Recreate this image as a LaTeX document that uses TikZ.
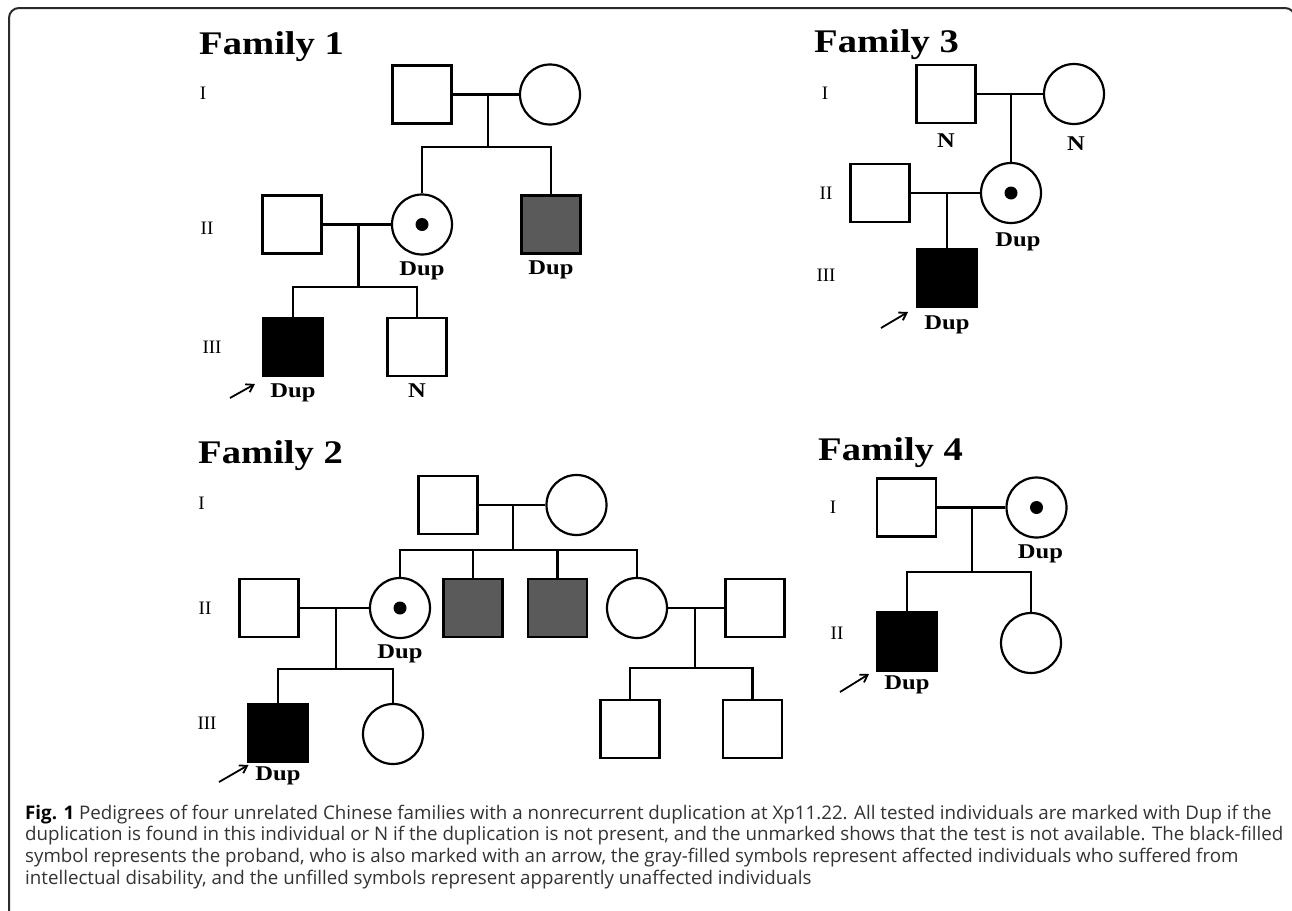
\documentclass[tikz,border=0pt]{standalone}
\usepackage{graphicx}
\usepackage{fontspec}
\setmainfont{Liberation Serif}
\newfontfamily\capfont{Open Sans}
\usetikzlibrary{arrows.meta}
\definecolor{affgray}{HTML}{5A5A5A}
\definecolor{captext}{HTML}{333333}
\definecolor{framecol}{HTML}{2B2B2B}
\newcommand\stretchtxt[1]{\scalebox{1.17}[1]{#1}}
\newcommand\captwo{duplication is found in this individual or N if the duplication is not present, and the unmarked shows that the test is not available. The black-filled}
\newlength\capw
\begin{document}
\settowidth\capw{\capfont\fontsize{10}{10}\selectfont\captwo}%
\pgfmathsetmacro\capsize{10*1258/\capw}%
\begin{tikzpicture}[x=1pt,y=-1pt,
  male/.style={draw, line width=2.2pt, rectangle, minimum width=59pt, minimum height=58pt, inner sep=0pt},
  female/.style={draw, line width=2.2pt, circle, minimum size=60pt, inner sep=0pt},
  proband/.style={fill=black},
  affected/.style={fill=affgray},
  link/.style={line width=2.2pt},
  gen/.style={font=\fontsize{19}{19}\selectfont, inner sep=0pt},
  famtitle/.style={font=\fontsize{33}{33}\selectfont\bfseries, inner sep=0pt, anchor=base west},
  lab/.style={font=\fontsize{21}{21}\selectfont\bfseries, inner sep=0pt, anchor=north},
  probarrow/.style={line width=1.8pt, -{Straight Barb[length=7pt,width=9pt]}},
  capline/.style={font=\capfont\fontsize{\capsize}{\capsize}\selectfont, text=captext, inner sep=0pt, anchor=base west},
]
\useasboundingbox (0,0) rectangle (1292,910);
\clip (0,0) rectangle (1292,910);
\fill[white] (0,0) rectangle (1292,910);
\draw[framecol, line width=2pt, rounded corners=10pt] (9,8) rectangle (1295,940);

% ---------------- Family 1 ----------------
\node[famtitle] (t1) at (199,54) {\stretchtxt{Family 1}};
\node[gen] (f1g1) at (203,93) {I};
\node[gen] (f1g2) at (207,228) {II};
\node[gen] (f1g3) at (212,347) {III};

\node[male] (f1m1) at (422,94.5) {};
\node[female] (f1f1) at (550,94.5) {};
\node[male] (f1m2) at (292,224.5) {};
\node[female] (f1f2) at (422,224.5) {};
\node[male, affected] (f1g) at (551,224.5) {};
\node[male, proband] (f1p) at (293,347) {};
\node[male] (f1n) at (417,347) {};
\fill (f1f2.center) circle[radius=6.5];

\coordinate (f1c1) at (488,94.5);
\coordinate (f1s1) at (488,147);
\draw[link] (f1m1.east) -- (f1f1.west);
\draw[link] (f1c1) -- (f1s1);
\draw[link] (f1f2.north) |- (f1s1) -| (f1g.north);
\coordinate (f1c2) at (358.5,224.5);
\coordinate (f1s2) at (358.5,287);
\draw[link] (f1m2.east) -- (f1f2.west);
\draw[link] (f1c2) -- (f1s2);
\draw[link] (f1p.north) |- (f1s2) -| (f1n.north);

\node[lab] (f1l1) at ([yshift=-6pt]f1f2.south) {\stretchtxt{Dup}};
\node[lab] (f1l2) at ([yshift=-6pt]f1g.south) {\stretchtxt{Dup}};
\node[lab] (f1l3) at ([yshift=-6pt]f1p.south) {\stretchtxt{Dup}};
\node[lab] (f1l4) at ([yshift=-6pt]f1n.south) {\stretchtxt{N}};
\coordinate (f1a0) at (230,398);
\coordinate (f1a1) at (255,384);
\draw[probarrow] (f1a0) -- (f1a1);

% ---------------- Family 3 ----------------
\node[famtitle] (t3) at (814,52) {\stretchtxt{Family 3}};
\node[gen] (f3g1) at (825,93) {I};
\node[gen] (f3g2) at (826,193) {II};
\node[gen] (f3g3) at (826,275) {III};

\node[male] (f3m1) at (946,94) {};
\node[female] (f3f1) at (1074,94) {};
\node[male] (f3m2) at (880,193) {};
\node[female] (f3f2) at (1011,193) {};
\node[male, proband] (f3p) at (947,278) {};
\fill (f3f2.center) circle[radius=6.5];

\coordinate (f3c1) at (1011,94);
\draw[link] (f3m1.east) -- (f3f1.west);
\draw[link] (f3c1) -- (f3f2.north);
\coordinate (f3c2) at (947,193);
\draw[link] (f3m2.east) -- (f3f2.west);
\draw[link] (f3c2) -- (f3p.north);

\node[lab] (f3l1) at ([yshift=-9pt]f3m1.south) {\stretchtxt{N}};
\node[lab] (f3l2) at ([xshift=2pt,yshift=-11pt]f3f1.south) {\stretchtxt{N}};
\node[lab] (f3l3) at ([xshift=7pt,yshift=-8pt]f3f2.south) {\stretchtxt{Dup}};
\node[lab] (f3l4) at ([yshift=-7pt]f3p.south) {\stretchtxt{Dup}};
\coordinate (f3a0) at (881,328);
\coordinate (f3a1) at (908,312);
\draw[probarrow] (f3a0) -- (f3a1);

% ---------------- Family 2 ----------------
\node[famtitle] (t2) at (198,463) {\stretchtxt{Family 2}};
\node[gen] (f2g1) at (201.5,503) {I};
\node[gen] (f2g2) at (205,608) {II};
\node[gen] (f2g3) at (207,723) {III};

\node[male] (f2m1) at (448,505) {};
\node[female] (f2f1) at (576.5,505) {};
\node[female] (f2c) at (400,608) {};
\node[male, affected] (f2a1) at (473,608) {};
\node[male, affected] (f2a2) at (557.5,608) {};
\node[female] (f2f2) at (637,608) {};
\node[male] (f2m2) at (269,608) {};
\node[male] (f2m3) at (755,608) {};
\node[male, proband] (f2p) at (278,733) {};
\node[female] (f2f3) at (393,734) {};
\node[male] (f2s1) at (630,729) {};
\node[male] (f2s2) at (752.5,729) {};
\fill (f2c.center) circle[radius=6.5];

\coordinate (f2c1) at (513,505);
\coordinate (f2s1c) at (513,550);
\draw[link] (f2m1.east) -- (f2f1.west);
\draw[link] (f2c1) -- (f2s1c);
\draw[link] (f2c.north) |- (f2s1c) -| (f2f2.north);
\draw[link] (f2a1.north) -- (f2a1.north |- f2s1c);
\draw[link] (f2a2.north) -- (f2a2.north |- f2s1c);

\coordinate (f2c2) at (336,608);
\coordinate (f2s2c) at (336,669);
\draw[link] (f2m2.east) -- (f2c.west);
\draw[link] (f2c2) -- (f2s2c);
\draw[link] (f2p.north) |- (f2s2c) -| (f2f3.north);

\coordinate (f2c3) at (695,608);
\coordinate (f2s3c) at (695,668);
\draw[link] (f2f2.east) -- (f2m3.west);
\draw[link] (f2c3) -- (f2s3c);
\draw[link] (f2s1.north) |- (f2s3c) -| (f2s2.north);

\node[lab] (f2l1) at ([yshift=-5pt]f2c.south) {\stretchtxt{Dup}};
\node[lab] (f2l2) at ([yshift=-3pt]f2p.south) {\stretchtxt{Dup}};
\coordinate (f2a0) at (219,782);
\coordinate (f2a1c) at (248.5,765);
\draw[probarrow] (f2a0) -- (f2a1c);

% ---------------- Family 4 ----------------
\node[famtitle] (t4) at (818,460) {\stretchtxt{Family 4}};
\node[gen] (f4g1) at (833,507) {I};
\node[gen] (f4g2) at (837,633) {II};

\node[male] (f4m1) at (906.5,507.5) {};
\node[female] (f4f1) at (1036.5,507.5) {};
\node[male, proband] (f4p) at (907,641.5) {};
\node[female] (f4f2) at (1031,643) {};
\fill (f4f1.center) circle[radius=6.5];

\coordinate (f4c1) at (972,507.5);
\coordinate (f4s1) at (972,572);
\draw[link] (f4m1.east) -- (f4f1.west);
\draw[link] (f4c1) -- (f4s1);
\draw[link] (f4p.north) |- (f4s1) -| (f4f2.north);

\node[lab] (f4l1) at ([xshift=4pt,yshift=-6pt]f4f1.south) {\stretchtxt{Dup}};
\node[lab] (f4l2) at ([yshift=-4pt]f4p.south) {\stretchtxt{Dup}};
\coordinate (f4a0) at (840,692);
\coordinate (f4a1) at (869,674);
\draw[probarrow] (f4a0) -- (f4a1);

% ---------------- Caption ----------------
\node[capline] (cap1) at (25,819) {{\bfseries\color{black}Fig. 1} Pedigrees of four unrelated Chinese families with a nonrecurrent duplication at Xp11.22. All tested individuals are marked with Dup if the};
\node[capline] (cap2) at (25,840.7) {\captwo};
\node[capline] (cap3) at (25,862.4) {symbol represents the proband, who is also marked with an arrow, the gray-filled symbols represent affected individuals who suffered from};
\node[capline] (cap4) at (25,884.1) {intellectual disability, and the unfilled symbols represent apparently unaffected individuals};
\end{tikzpicture}
\end{document}
